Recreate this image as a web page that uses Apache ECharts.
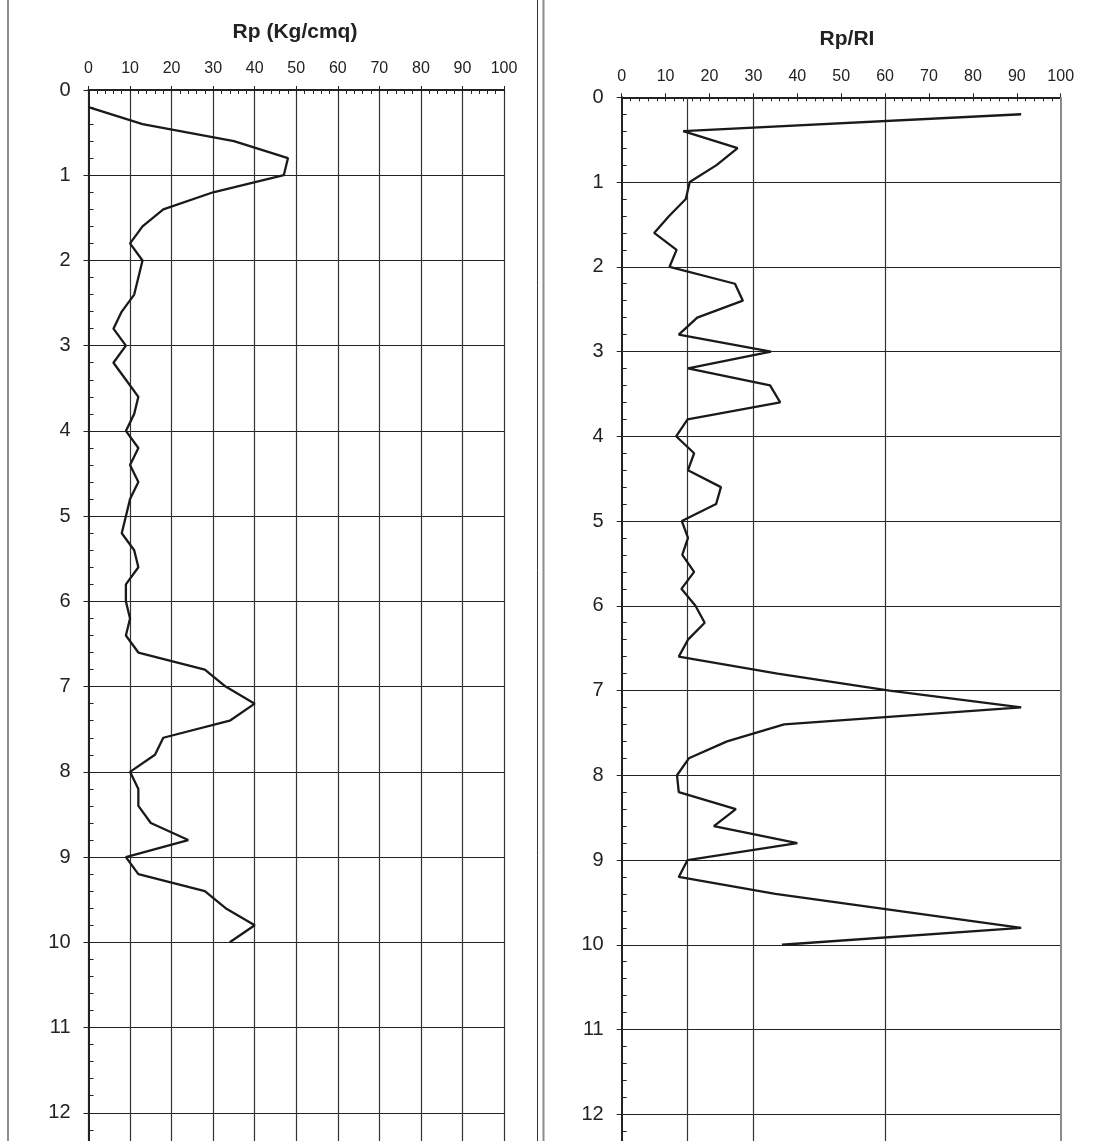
<!DOCTYPE html>
<html>
<head>
<meta charset="utf-8">
<script src="https://cdn.jsdelivr.net/npm/echarts@6/dist/echarts.min.js"></script>
<style>
html,body{margin:0;padding:0;background:#fff;overflow:hidden;}
#chart{width:1096px;height:1141px;}
</style>
</head>
<body>
<div id="chart"></div>
<script>
// ---- data ----
const depths = [0.2,0.4,0.6,0.8,1.0,1.2,1.4,1.6,1.8,2.0,
                2.2,2.4,2.6,2.8,3.0,3.2,3.4,3.6,3.8,4.0,
                4.2,4.4,4.6,4.8,5.0,5.2,5.4,5.6,5.8,6.0,
                6.2,6.4,6.6,6.8,7.0,7.2,7.4,7.6,7.8,8.0,
                8.2,8.4,8.6,8.8,9.0,9.2,9.4,9.6,9.8,10.0];
const rpValues = [0,13,35,48,47,30,18,13,10,13,
                  12,11,8,6,9,6,9,12,11,9,
                  12,10,12,10,9,8,11,12,9,9,
                  10,9,12,28,33,40,34,18,16,10,
                  12,12,15,24,9,12,28,33,40,34];
const rpRlValues = [91,14,26.4,21.6,15.5,14.6,10.8,7.4,12.5,10.9,
                    25.8,27.6,17.2,13,34,15.1,33.8,36.1,15,12.4,
                    16.5,15.1,22.6,21.5,13.7,15.1,13.8,16.5,13.6,16.8,
                    18.9,15.1,13,35.5,61,91,37,24,15.3,12.6,
                    13,26,21,40,15,13,35,63,91,36.5];
const xTickValues = [0,10,20,30,40,50,60,70,80,90,100];
const depthTicks = [0,1,2,3,4,5,6,7,8,9,10,11,12];
const rightGridValues = [15,30,60];
const titleLeft = 'Rp (Kg/cmq)';
const titleRight = 'Rp/RI';

const FONT = '"Liberation Sans", Arial, sans-serif';
const DARK = '#222';
const GRID = '#333';
const FRAME = '#8c8c8c';

const chart = echarts.init(document.getElementById('chart'), null, {renderer:'canvas'});

const grids = [
  {left: 88.5, right: 1096 - 504, top: 90, bottom: -57, containLabel:false, outerBoundsMode:'none'},
  {left: 621.7, right: 1096 - 1060.7, top: 97.3, bottom: -58, containLabel:false, outerBoundsMode:'none'}
];

function xAxes(gi, withSplit) {
  return [
    {
      type:'value', gridIndex: gi, position:'top', min:0, max:100, interval:10,
      axisLine:{show:true, onZero:false, lineStyle:{color:DARK, width:2}},
      axisTick:{show:true, inside:true, length:4, lineStyle:{color:DARK, width:1}},
      minorTick:{show:true, splitNumber:5, length:4, lineStyle:{color:DARK, width:1}},
      axisLabel:{show:true, margin:13, fontSize:16, color:DARK, fontFamily:FONT,
        formatter: v => xTickValues.indexOf(v) >= 0 ? String(v) : ''},
      splitLine:{show:withSplit, lineStyle:{color:GRID, width:1.2}},
      minorSplitLine:{show:false}
    },
    {
      type:'value', gridIndex: gi, position:'top', min:0, max:100, interval:10,
      axisLine:{show:false, onZero:false},
      axisTick:{show:true, inside:false, length:4, lineStyle:{color:DARK, width:1}},
      axisLabel:{show:false}, splitLine:{show:false}
    }
  ];
}
function yAxes(gi) {
  return [
    {
      type:'value', gridIndex: gi, inverse:true, min:0, max:13, interval:1, position:'left',
      axisLine:{show:true, onZero:false, lineStyle:{color:DARK, width:2}},
      axisTick:{show:true, inside:true, length:4, lineStyle:{color:DARK, width:1}},
      minorTick:{show:true, splitNumber:5, length:5, lineStyle:{color:DARK, width:1}},
      axisLabel:{show:true, margin:18, fontSize:20, color:DARK, fontFamily:FONT,
        formatter: v => depthTicks.indexOf(v) >= 0 ? String(v) : ''},
      splitLine:{show:true, lineStyle:{color:'#222', width:1.2}}
    },
    {
      type:'value', gridIndex: gi, inverse:true, min:0, max:13, interval:1, position:'left',
      axisLine:{show:false, onZero:false},
      axisTick:{show:true, inside:false, length:5, lineStyle:{color:DARK, width:1}},
      axisLabel:{show:false}, splitLine:{show:false}
    }
  ];
}

const leftData = depths.map((d,i) => [rpValues[i], d]);
const rightData = depths.map((d,i) => [rpRlValues[i], d]);

const option = {
  animation:false,
  backgroundColor:'#fff',
  grid: grids,
  xAxis: [...xAxes(0, true), ...xAxes(1, false)],
  yAxis: [...yAxes(0), ...yAxes(1)],
  title: [
    {text:titleLeft, left:290, top:17, textAlign:'center',
     textStyle:{fontSize:21, fontWeight:'bold', color:DARK, fontFamily:FONT}},
    {text:titleRight, left:842, top:24, textAlign:'center',
     textStyle:{fontSize:21, fontWeight:'bold', color:DARK, fontFamily:FONT}}
  ],
  graphic: [
    {type:'line', shape:{x1:8, y1:0, x2:8, y2:1141}, style:{stroke:FRAME, lineWidth:2}, silent:true},
    {type:'line', shape:{x1:537.5, y1:0, x2:537.5, y2:1141}, style:{stroke:'#333', lineWidth:1}, silent:true},
    {type:'line', shape:{x1:543.5, y1:0, x2:543.5, y2:1141}, style:{stroke:FRAME, lineWidth:2}, silent:true}
  ],
  series: [
    {
      type:'line', xAxisIndex:0, yAxisIndex:0, data:leftData,
      symbol:'none', lineStyle:{color:'#1a1a1a', width:2.3}, z:5
    },
    {
      type:'line', xAxisIndex:2, yAxisIndex:2, data:rightData,
      symbol:'none', lineStyle:{color:'#1a1a1a', width:2.3}, z:5,
      markLine:{
        silent:true, symbol:['none','none'], label:{show:false},
        data: [
          ...rightGridValues.map(v => ({xAxis:v, lineStyle:{color:GRID, width:1.2, type:'solid'}})),
          {xAxis:100, lineStyle:{color:FRAME, width:2, type:'solid'}}
        ]
      }
    }
  ]
};
chart.setOption(option);
</script>
</body>
</html>
